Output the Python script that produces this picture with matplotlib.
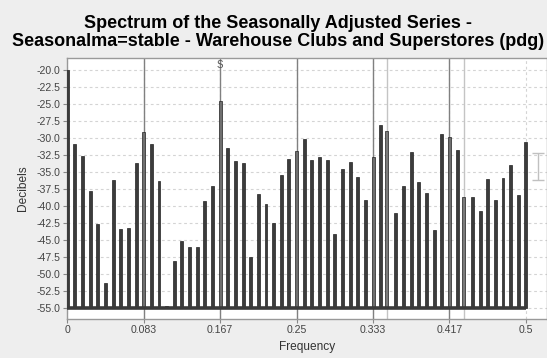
#!/usr/bin/env python3
"""
Spectrum of the seasonally adjusted series (X-13 style bar spectrum).
Saves out.png at 547x358.
"""

import numpy as np
import matplotlib.pyplot as plt

# spectrum frequencies: k/120, with the two trading-day frequencies swapped in
freqs = np.arange(61) / 120.0
freqs[42] = 0.3482
freqs[52] = 0.4320

decibels = [
    -20.0, -30.9, -32.65, -37.8, -42.7, -51.4, -36.2, -43.4, -43.3, -33.7,
    -29.16, -30.9, -36.35, -54.75, -48.2, -45.25, -46.0, -46.0, -39.3, -37.1,
    -24.5, -31.4, -33.4, -33.7, -47.6, -38.3, -39.8, -42.6, -35.5, -33.15,
    -31.95, -30.2, -33.3, -32.85, -33.3, -44.2, -34.5, -33.6, -35.8, -39.2,
    -32.85, -28.0, -29.0, -41.1, -37.0, -32.1, -36.55, -38.15, -43.5, -29.45,
    -29.9, -31.8, -38.75, -38.75, -40.8, -36.1, -39.2, -35.95, -34.0, -38.45,
    -30.6,
]
base_db = -55.0

seasonal_freqs = [1 / 12, 2 / 12, 3 / 12, 4 / 12, 5 / 12]
td_freqs = [0.3482, 0.4320]

xtick_vals = [0, 1 / 12, 2 / 12, 3 / 12, 4 / 12, 5 / 12, 0.5]
xtick_labels = ["0", "0.083", "0.167", "0.25", "0.333", "0.417", "0.5"]
ytick_vals = np.arange(-55.0, -19.0, 2.5)

# range marker drawn to the right of the spectrum
range_x = 0.5135
range_lo, range_hi = -36.2, -32.25

plt.rcParams["font.family"] = ["Liberation Sans", "DejaVu Sans"]

W, H = 547, 358
fig = plt.figure(figsize=(W / 100, H / 100), dpi=100, facecolor="#eeeeee")
ax = fig.add_axes([67.3 / W, 1 - 318.5 / H, 1 - 67.3 / W, (318.5 - 58.3) / H])
ax.set_facecolor("white")

ax.set_xlim(0, 0.523)
ax.set_ylim(-56.62, -18.23)

# grid
ax.set_yticks(ytick_vals)
ax.set_yticklabels([f"{v:.1f}" for v in ytick_vals])
ax.set_xticks(xtick_vals)
ax.set_xticklabels(xtick_labels)
ax.grid(True, color="#d4d4d4", linestyle=(0, (2.5, 2.5)), linewidth=0.8)
ax.set_axisbelow(True)

# seasonal / trading-day reference lines
for f in seasonal_freqs:
    ax.axvline(f, color="#808080", linewidth=1.0, zorder=1)
for f in td_freqs:
    ax.axvline(f, color="#c4c4c4", linewidth=1.0, zorder=1)

# bars
colors = []
for f in freqs:
    if any(abs(f - s) < 1e-6 for s in seasonal_freqs):
        colors.append("#6f6f6f")
    elif any(abs(f - s) < 1e-6 for s in td_freqs):
        colors.append("#7a7a7a")
    else:
        colors.append("#3c3c3c")
heights = np.array(decibels) - base_db
ax.bar(freqs, heights, bottom=base_db, width=0.0032, color=colors,
       edgecolor="#222222", linewidth=0.5, zorder=3)
ax.hlines(base_db, 0, 0.5, color="#3a3a3a", linewidth=2.6, zorder=4)

# seasonal marker
ax.text(2 / 12, -19.2, "S", ha="center", va="center", fontsize=7, color="#555555")

# range bar
ax.errorbar([range_x], [(range_lo + range_hi) / 2], yerr=[[(range_hi - range_lo) / 2]],
            color="#c0c0c0", capsize=4.5, elinewidth=1.0, capthick=1.0, zorder=2)

for side in ["top", "left", "bottom", "right"]:
    ax.spines[side].set_color("#999999")
    ax.spines[side].set_linewidth(1.0)

ax.tick_params(axis="both", direction="out", length=3, width=0.8, color="#888888",
               labelsize=7.6, labelcolor="#444444", pad=2)
ax.set_xlabel("Frequency", fontsize=8.6, color="#333333", labelpad=4)
ax.set_ylabel("Decibels", fontsize=8.6, color="#333333", labelpad=5)

fig.text(0.508, 1 - 15 / H,
         "Spectrum of the Seasonally Adjusted Series -\n"
         "Seasonalma=stable - Warehouse Clubs and Superstores (pdg)",
         ha="center", va="top", fontsize=13.0, fontweight="bold",
         linespacing=1.07, color="black")

fig.savefig("out.png", dpi=100, facecolor=fig.get_facecolor())
print("[OK] Saved out.png")
